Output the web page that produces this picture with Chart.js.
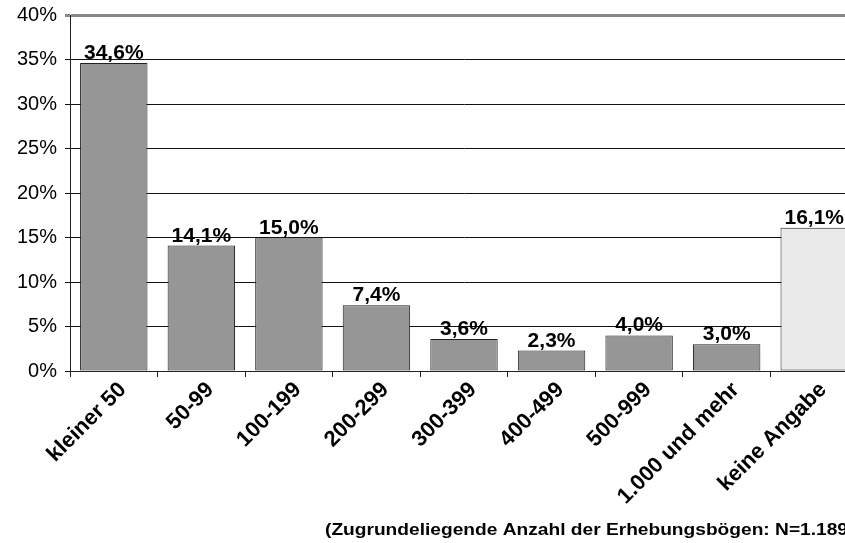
<!DOCTYPE html>
<html>
<head>
<meta charset="utf-8">
<script src="https://cdn.jsdelivr.net/npm/chart.js@4"></script>
<style>
  html, body { margin: 0; padding: 0; background: #fff; overflow: hidden; }
  #wrap { width: 858px; height: 543px; }
</style>
</head>
<body>
<div id="wrap"><canvas id="chart" width="858" height="543"></canvas></div>
<script>
const categories = ["kleiner 50", "50-99", "100-199", "200-299", "300-399", "400-499", "500-999", "1.000 und mehr", "keine Angabe"];
const shares = [34.6, 14.1, 15.0, 7.4, 3.6, 2.3, 4.0, 3.0, 16.1];
const barColors = ["#969696", "#969696", "#969696", "#969696", "#969696", "#969696", "#969696", "#969696", "#eaeaea"];
const footnote = "(Zugrundeliegende Anzahl der Erhebungsbögen: N=1.189)";

const FONT = "'Liberation Sans', Arial, sans-serif";

// value labels on top of the bars
const valueLabels = {
    id: "valueLabels",
    afterDatasetsDraw(chart) {
        const ctx = chart.ctx;
        const meta = chart.getDatasetMeta(0);
        ctx.save();
        ctx.font = "bold 21px " + FONT;
        ctx.fillStyle = "#000";
        ctx.textAlign = "center";
        ctx.textBaseline = "alphabetic";
        meta.data.forEach((bar, i) => {
            const txt = shares[i].toFixed(1).replace(".", ",") + "%";
            ctx.fillText(txt, bar.x, bar.y - 4);
        });
        ctx.restore();
    }
};

// footnote under the chart (reference font is a bit wider, so stretch it)
const footnoteText = {
    id: "footnoteText",
    afterDraw(chart) {
        const ctx = chart.ctx;
        ctx.save();
        ctx.font = "bold 17px " + FONT;
        ctx.fillStyle = "#000";
        ctx.textAlign = "left";
        ctx.textBaseline = "alphabetic";
        const w = ctx.measureText(footnote.slice(0, -1)).width;
        ctx.translate(325, 535);
        ctx.scale(523 / w, 1);
        ctx.fillText(footnote, 0, 0);
        ctx.restore();
    }
};

new Chart(document.getElementById("chart").getContext("2d"), {
    type: "bar",
    data: {
        labels: categories,
        datasets: [
            {
                data: shares,
                backgroundColor: barColors,
                borderColor: "#222",
                borderWidth: 1,
                borderSkipped: false,
                barPercentage: 0.77,
                categoryPercentage: 1.0,
            },
        ],
    },
    options: {
        responsive: false,
        animation: false,
        layout: { padding: { top: 15, left: 0, right: 0, bottom: 0 } },
        plugins: {
            legend: { display: false },
            tooltip: { enabled: false },
        },
        scales: {
            x: {
                offset: true,
                grid: {
                    offset: true,
                    drawOnChartArea: false,
                    drawTicks: true,
                    tickLength: 6,
                    color: "#222",
                },
                border: { color: "#222", width: 1 },
                ticks: {
                    minRotation: 45,
                    maxRotation: 45,
                    autoSkip: false,
                    color: "#000",
                    font: { family: FONT, size: 22, weight: "bold" },
                    padding: 0,
                    labelOffset: 9,
                },
                afterFit(scale) { scale.height = 172; },
            },
            y: {
                min: 0,
                max: 40,
                ticks: {
                    stepSize: 5,
                    color: "#000",
                    font: { family: FONT, size: 20 },
                    padding: 8,
                    callback: (v) => v + "%",
                },
                grid: {
                    color: (c) => (c.tick && c.tick.value === 40 ? "#888" : "#111"),
                    lineWidth: (c) => (c.tick && c.tick.value === 40 ? 3 : 1),
                    tickLength: 5,
                    drawTicks: true,
                },
                border: { color: "#222", width: 1 },
                afterFit(scale) {
                    scale.width = 70;
                    scale.paddingTop = 0;
                    scale.paddingBottom = 0;
                },
            },
        },
    },
    plugins: [valueLabels, footnoteText],
});
</script>
</body>
</html>
